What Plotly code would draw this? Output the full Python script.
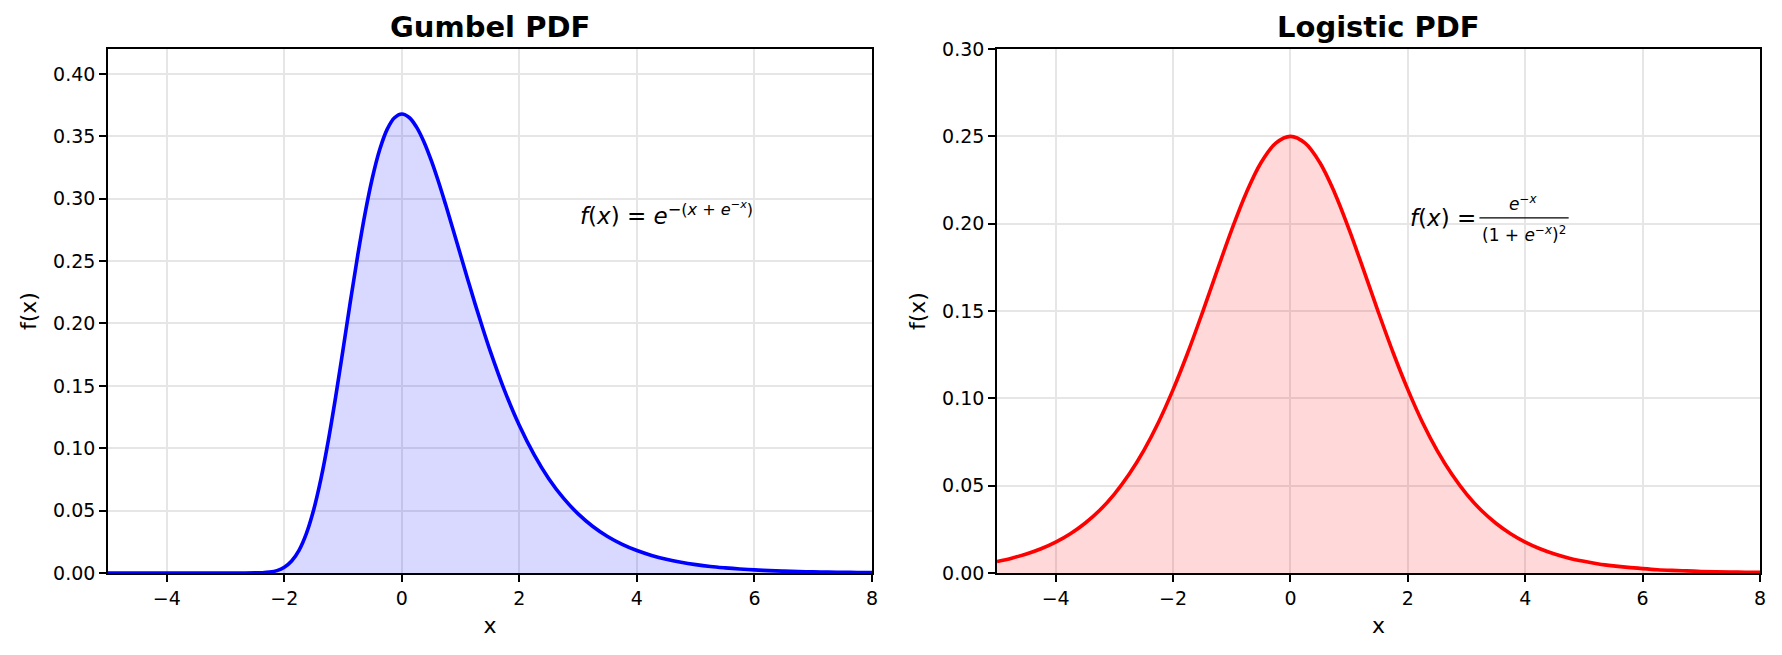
import plotly.graph_objects as go

# Gumbel curve samples (denser around the steep part and the peak)
gumbel_x = [-5.0, -4.75, -4.5, -4.25, -4.0, -3.75, -3.5, -3.25, -3.0, -2.75, -2.5,
            -2.375, -2.25, -2.125, -2.0, -1.875, -1.75, -1.625, -1.5, -1.375, -1.25, -1.125,
            -1.0, -0.875, -0.75, -0.625, -0.5, -0.375, -0.25, -0.125, 0.0, 0.125, 0.25, 0.375,
            0.5, 0.625, 0.75, 0.875, 1.0, 1.125, 1.25, 1.375, 1.5,
            1.75, 2.0, 2.25, 2.5, 2.75, 3.0, 3.25, 3.5, 3.75, 4.0, 4.25,
            4.5, 4.75, 5.0, 5.25, 5.5, 5.75, 6.0, 6.25, 6.5, 6.75, 7.0, 7.25, 7.5, 7.75, 8.0]
gumbel_vals = [0.0, 0.0, 0.0, 0.0, 0.0, 0.0, 0.0, 0.0, 0.0, 0.0, 0.0001,
               0.0002, 0.0007, 0.0019, 0.0046, 0.0096, 0.0182, 0.0316, 0.0507, 0.0758, 0.1065, 0.1416,
               0.1794, 0.2179, 0.2549, 0.2885, 0.3170, 0.3396, 0.3556, 0.3649, 0.3679, 0.3651, 0.3574, 0.3457,
               0.3307, 0.3134, 0.2945, 0.2748, 0.2546, 0.2347, 0.2151, 0.1964, 0.1785,
               0.1460, 0.1182, 0.0949, 0.0756, 0.0600, 0.0474, 0.0373, 0.0293, 0.0230, 0.0180, 0.0141,
               0.0110, 0.0086, 0.0067, 0.0052, 0.0041, 0.0032, 0.0025, 0.0019, 0.0015, 0.0012, 0.0009, 0.0007, 0.00055, 0.00043, 0.00034]

# Logistic curve samples
logistic_x = [-5.0, -4.75, -4.5, -4.25, -4.0, -3.75, -3.5, -3.25, -3.0, -2.75, -2.5, -2.25,
              -2.0, -1.75, -1.5, -1.25, -1.0, -0.75, -0.5, -0.25, 0.0, 0.25, 0.5, 0.75,
              1.0, 1.25, 1.5, 1.75, 2.0, 2.25, 2.5, 2.75, 3.0, 3.25, 3.5, 3.75, 4.0, 4.25,
              4.5, 4.75, 5.0, 5.25, 5.5, 5.75, 6.0, 6.25, 6.5, 6.75, 7.0, 7.25, 7.5, 7.75, 8.0]
logistic_vals = [0.0066, 0.0085, 0.0109, 0.0139, 0.0177, 0.0225, 0.0285, 0.0359, 0.0452, 0.0565, 0.0701, 0.0862,
                 0.1050, 0.1261, 0.1491, 0.1731, 0.1966, 0.2179, 0.2350, 0.2461, 0.2500, 0.2461, 0.2350, 0.2179,
                 0.1966, 0.1731, 0.1491, 0.1261, 0.1050, 0.0862, 0.0701, 0.0565, 0.0452, 0.0359, 0.0285, 0.0225, 0.0177, 0.0139,
                 0.0109, 0.0085, 0.0067, 0.0052, 0.0041, 0.0032, 0.0025, 0.0019, 0.0015, 0.0012, 0.0009, 0.0007, 0.00055, 0.00043, 0.00034]

titles = ["Gumbel PDF", "Logistic PDF"]
x_ticks = [-4, -2, 0, 2, 4, 6, 8]
gumbel_yticks = [0.0, 0.05, 0.10, 0.15, 0.20, 0.25, 0.30, 0.35, 0.40]
logistic_yticks = [0.0, 0.05, 0.10, 0.15, 0.20, 0.25, 0.30]

FONT = "DejaVu Sans"
GRID = "#e6e6e6"

fig = go.Figure()
fig.add_trace(go.Scatter(x=gumbel_x, y=gumbel_vals, mode="lines",
                         line=dict(color="#0000ff", width=3.6, shape="spline", smoothing=1.0),
                         fill="tozeroy", fillcolor="rgba(0,0,255,0.15)",
                         xaxis="x", yaxis="y", showlegend=False, hoverinfo="skip"))
fig.add_trace(go.Scatter(x=logistic_x, y=logistic_vals, mode="lines",
                         line=dict(color="#ff0000", width=3.6, shape="spline", smoothing=1.0),
                         fill="tozeroy", fillcolor="rgba(255,0,0,0.15)",
                         xaxis="x2", yaxis="y2", showlegend=False, hoverinfo="skip"))

def xaxis(domain, anchor):
    return dict(domain=domain, anchor=anchor, range=[-5, 8], tickvals=x_ticks, automargin=False,
                showline=True, mirror=True, linecolor="black", linewidth=1.6,
                ticks="outside", ticklen=7, tickwidth=1.6, tickcolor="black",
                showgrid=True, gridcolor=GRID, gridwidth=1.6, zeroline=False,
                tickfont=dict(family=FONT, size=19, color="black"),
                title=dict(text="x", font=dict(family=FONT, size=22, color="black"), standoff=10))

def yaxis(domain, anchor, rng, ticks):
    return dict(domain=domain, anchor=anchor, range=rng, tickvals=ticks, tickformat=".2f", automargin=False,
                showline=True, mirror=True, linecolor="black", linewidth=1.6,
                ticks="outside", ticklen=7, tickwidth=1.6, tickcolor="black",
                showgrid=True, gridcolor=GRID, gridwidth=1.6, zeroline=False,
                tickfont=dict(family=FONT, size=19, color="black"),
                title=dict(text="f(x)", font=dict(family=FONT, size=22, color="black"), standoff=10))

ydom = [1 - 573 / 655, 1 - 49 / 655]
fig.update_layout(
    width=1782, height=655,
    margin=dict(l=0, r=0, t=0, b=0, autoexpand=False),
    paper_bgcolor="white", plot_bgcolor="white",
    xaxis=xaxis([108 / 1782, 872 / 1782], "y"),
    yaxis=yaxis(ydom, "x", [0, 0.42], gumbel_yticks),
    xaxis2=xaxis([997 / 1782, 1760 / 1782], "y2"),
    yaxis2=yaxis(ydom, "x2", [0, 0.30], logistic_yticks),
)

# subplot titles
for i, t in enumerate(titles):
    cx = [(108 + 872) / 2 / 1782, (997 + 1760) / 2 / 1782][i]
    fig.add_annotation(text="<b>%s</b>" % t, x=cx, y=1 - 26.5 / 655, xref="paper", yref="paper",
                       xanchor="center", yanchor="middle", showarrow=False,
                       font=dict(family=FONT, size=29, color="black"))

# formula annotations
fig.add_annotation(text="<i>f</i>(<i>x</i>) = <i>e</i><sup>−(<i>x</i> + <i>e</i><sup>−<i>x</i></sup>)</sup>",
                   x=3, y=0.274, xref="x", yref="y", xanchor="left", yanchor="bottom",
                   showarrow=False, font=dict(family=FONT, size=23, color="black"))

fig.add_annotation(text="<i>f</i>(<i>x</i>) =", x=2, y=0.1945, xref="x2", yref="y2",
                   xanchor="left", yanchor="bottom", showarrow=False,
                   font=dict(family=FONT, size=23, color="black"))
fig.add_annotation(text="<i>e</i><sup>−<i>x</i></sup>", x=3.96, y=0.2045, xref="x2", yref="y2",
                   xanchor="center", yanchor="bottom", showarrow=False,
                   font=dict(family=FONT, size=17, color="black"))
fig.add_annotation(text="(1 + <i>e</i><sup>−<i>x</i></sup>)<sup>2</sup>", x=3.98, y=0.2015, xref="x2", yref="y2",
                   xanchor="center", yanchor="top", showarrow=False,
                   font=dict(family=FONT, size=17, color="black"))
fig.add_shape(type="line", x0=3.22, x1=4.74, y0=0.2033, y1=0.2033, xref="x2", yref="y2",
              line=dict(color="black", width=1.2))

fig.write_html("out.html")
